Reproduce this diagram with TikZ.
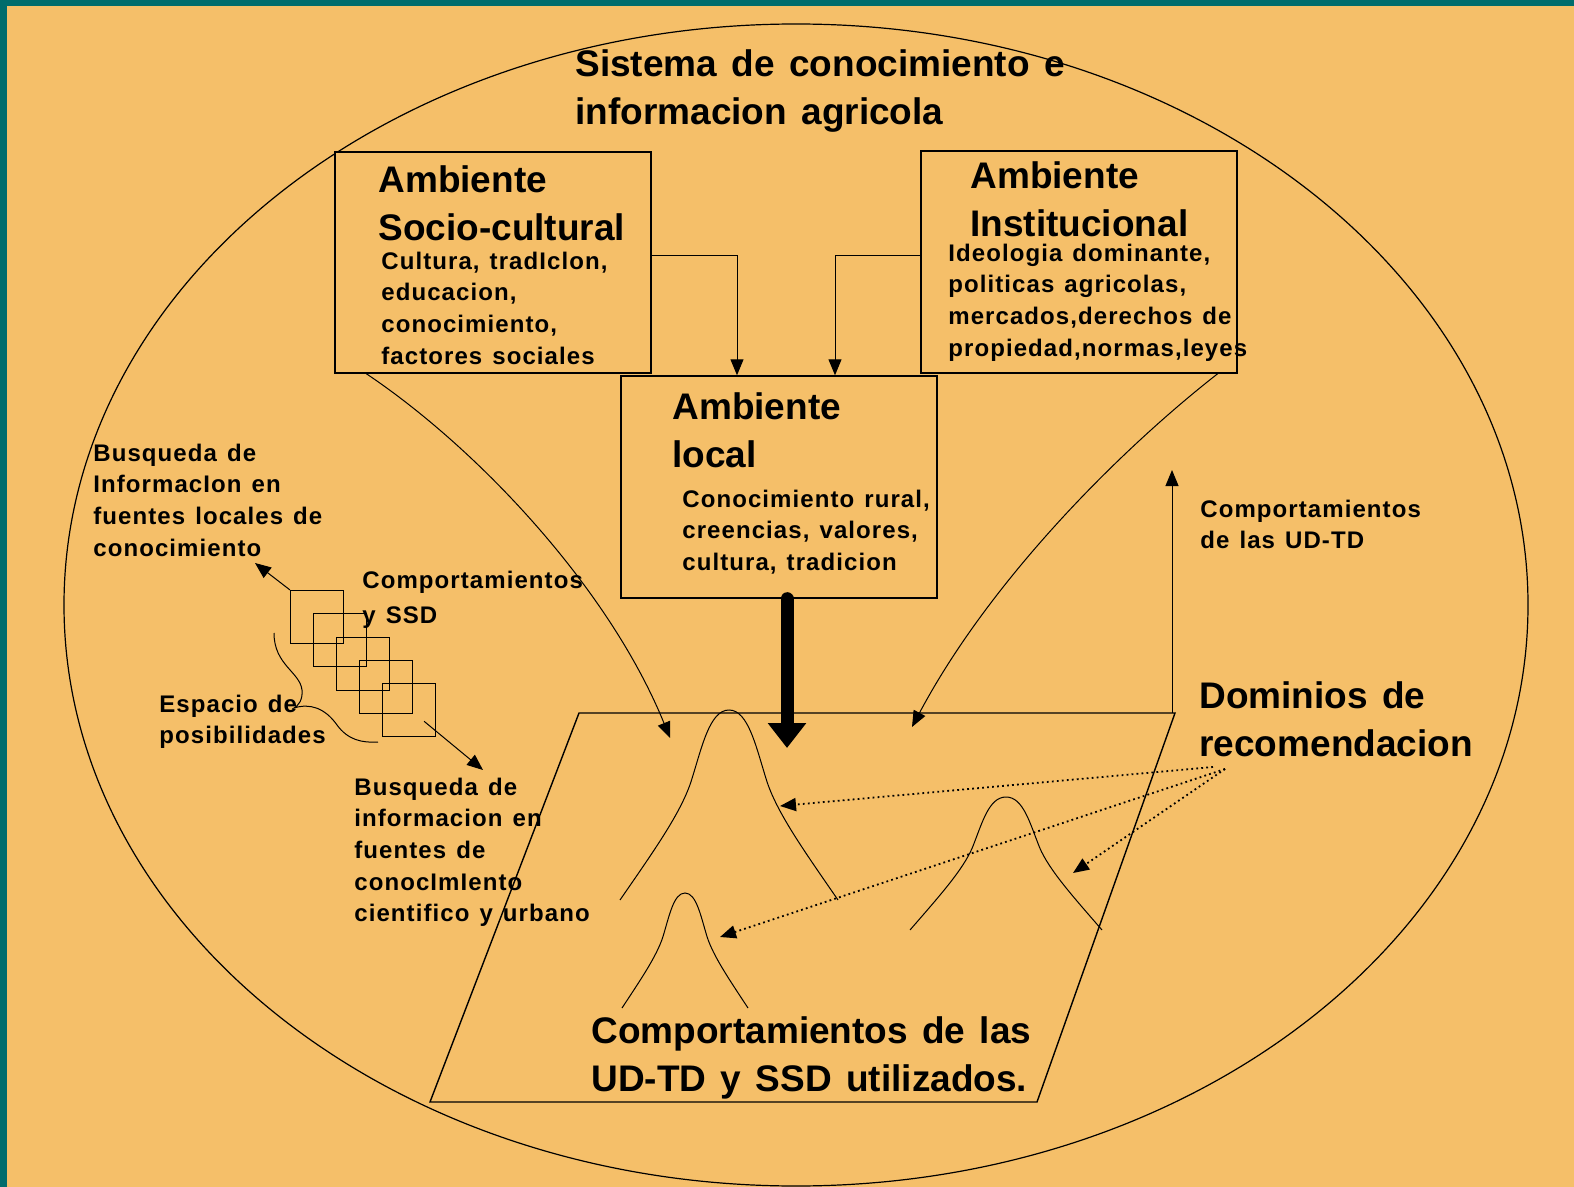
\documentclass[tikz,border=0pt]{standalone}
\usepackage{fontspec}
\setmainfont{Liberation Sans}
\newfontfamily\spacedfont[LetterSpace=4.5,WordSpace=1.3]{Liberation Sans}
\newfontfamily\widefont[WordSpace=1.4]{Liberation Sans}
\usetikzlibrary{arrows.meta}

\definecolor{bgorange}{RGB}{245,191,105}
\definecolor{frameteal}{RGB}{0,108,108}

\newcommand{\bigtxt}{\widefont\bfseries\fontsize{18.5}{24}\selectfont}
\newcommand{\smalltxt}{\spacedfont\bfseries\fontsize{12}{15.8}\selectfont}

\tikzset{
    box/.style={draw, line width=0.7pt, fill=bgorange, inner sep=0pt},
    sq/.style={draw, line width=0.6pt, minimum size=26.5pt, inner sep=0pt},
    bigtext/.style={anchor=north west, inner sep=0pt, align=left, font=\bigtxt},
    smalltext/.style={anchor=north west, inner sep=0pt, align=left, font=\smalltxt},
    pointer/.style={line width=0.5pt, -{Triangle[length=8pt,width=6.5pt]}},
    dots/.style={pointer, line width=0.9pt, dash pattern=on 0.9pt off 1.6pt},
}

\begin{document}
\begin{tikzpicture}[x=0.5pt, y=-0.5pt]
    \useasboundingbox (0,0) rectangle (1574,1187);
    \fill[frameteal] (0,0) rectangle (1574,1187);
    \fill[bgorange] (7,6) rectangle (1574,1187);
    \begin{scope}
        \clip (7,6) rectangle (1574,1187);
        \draw[line width=0.6pt] (796,605) ellipse [x radius=732, y radius=581];
    \end{scope}

    % the three environments
    \node[box, minimum width=158pt, minimum height=110.5pt] (socio) at (493,262.5) {};
    \node[box, minimum width=158pt, minimum height=111pt] (inst) at (1079,262) {};
    \node[box, minimum width=158pt, minimum height=111pt] (local) at (779,487) {};

    \draw[pointer] ([yshift=3.25pt]socio.east) -| ([xshift=-21pt]local.north);
    \draw[pointer] ([yshift=3pt]inst.west) -| ([xshift=28pt]local.north);

    % recommendation plane
    \coordinate (pa) at (579,713);
    \coordinate (pb) at (1175,713);
    \coordinate (pc) at (1037,1102);
    \coordinate (pd) at (430,1102);
    \draw[line width=0.7pt] (pa) -- (pb) -- (pc) -- (pd) -- cycle;

    \foreach \cx/\by/\w/\h in {729/900/109/190, 685/1008/63/115, 1006/930/96/133}
        \draw[line width=0.5pt] ({\cx-\w},\by) .. controls ({\cx-0.7*\w},{\by-0.25*\h}) and ({\cx-0.45*\w},{\by-0.45*\h}) .. ({\cx-0.35*\w},{\by-0.62*\h})
            .. controls ({\cx-0.25*\w},{\by-0.8*\h}) and ({\cx-0.18*\w},{\by-\h}) .. (\cx,{\by-\h})
            .. controls ({\cx+0.18*\w},{\by-\h}) and ({\cx+0.25*\w},{\by-0.8*\h}) .. ({\cx+0.35*\w},{\by-0.62*\h})
            .. controls ({\cx+0.45*\w},{\by-0.45*\h}) and ({\cx+0.7*\w},{\by-0.25*\h}) .. ({\cx+\w},\by);

    \coordinate (drop) at (787,748);
    \draw[line width=6.5pt, line cap=round, -{Triangle[length=12.5pt,width=18.5pt]}] ([xshift=4pt]local.south) -- (drop);

    \coordinate (socend) at (670,738);
    \coordinate (instend) at (912,727);
    \draw[pointer] ([xshift=16pt]socio.south west) .. controls (480,450) and (610,590) .. (socend);
    \draw[pointer] ([xshift=-10pt]inst.south east) .. controls (1120,450) and (990,580) .. (instend);

    \coordinate (up) at (1172,470);
    \draw[pointer] (up |- pb) -- (up);

    % search squares
    \foreach \i in {0,...,4}
        \node[sq] (s\i) at ({317+23*\i},{617+23.3*\i}) {};
    \coordinate (lookleft) at (255,563);
    \coordinate (lookdown) at (483,770);
    \draw[pointer] (s0.north west) -- (lookleft);
    \draw[pointer] ([shift={(-6pt,8pt)}]s4.south east) -- (lookdown);

    \draw[line width=0.5pt] (274,633) .. controls (274,665) and (300,672) .. (302,690) .. controls (303,700) and (298,706) .. (294,708)
        .. controls (310,703) and (325,708) .. (337,725) .. controls (348,740) and (362,743) .. (378,742);

    % domains
    \coordinate (domA) at (1213,767);
    \coordinate (domB) at (1225,769);
    \coordinate (hitA) at (780,806);
    \coordinate (hitB) at (720,937);
    \coordinate (hitC) at (1073,873);
    \draw[dots] (domA) -- (hitA);
    \draw[dots] (domB) -- (hitB);
    \draw[dots] (domB) -- (hitC);

    \node[bigtext] (title) at (575,49) {Sistema de conocimiento e\\informacion agricola};
    \node[bigtext] (sociohead) at (378,165) {Ambiente\\Socio-cultural};
    \node[smalltext] (sociotext) at (381,251.5) {Cultura, tradIclon,\\educacion,\\conocimiento,\\factores sociales};
    \node[bigtext] (insthead) at (970,161) {Ambiente\\Institucional};
    \node[smalltext] (insttext) at (948,243.5) {Ideologia dominante,\\politicas agricolas,\\mercados,derechos de\\propiedad,normas,leyes};
    \node[bigtext] (localhead) at (672,392) {Ambiente\\local};
    \node[smalltext] (localtext) at (682,489.5) {Conocimiento rural,\\creencias, valores,\\cultura, tradicion};
    \node[smalltext] (busqlocal) at (93,443.5) {Busqueda de\\InformacIon en\\fuentes locales de\\conocimiento};
    \node[smalltext] (compssd) at (362,570.5) {Comportamientos\\[2pt]y SSD};
    \node[smalltext] (espacio) at (159,694.5) {Espacio de\\posibilidades};
    \node[smalltext] (busqsci) at (354,777.5) {Busqueda de\\informacion en\\fuentes de\\conocImIento\\cientifico y urbano};
    \node[smalltext] (compud) at (1200,499.5) {Comportamientos\\de las UD-TD};
    \node[bigtext] (dominios) at (1199,681) {Dominios de\\recomendacion};
    \node[bigtext] (usados) at (591,1016) {Comportamientos de las\\UD-TD y SSD utilizados.};
\end{tikzpicture}
\end{document}
